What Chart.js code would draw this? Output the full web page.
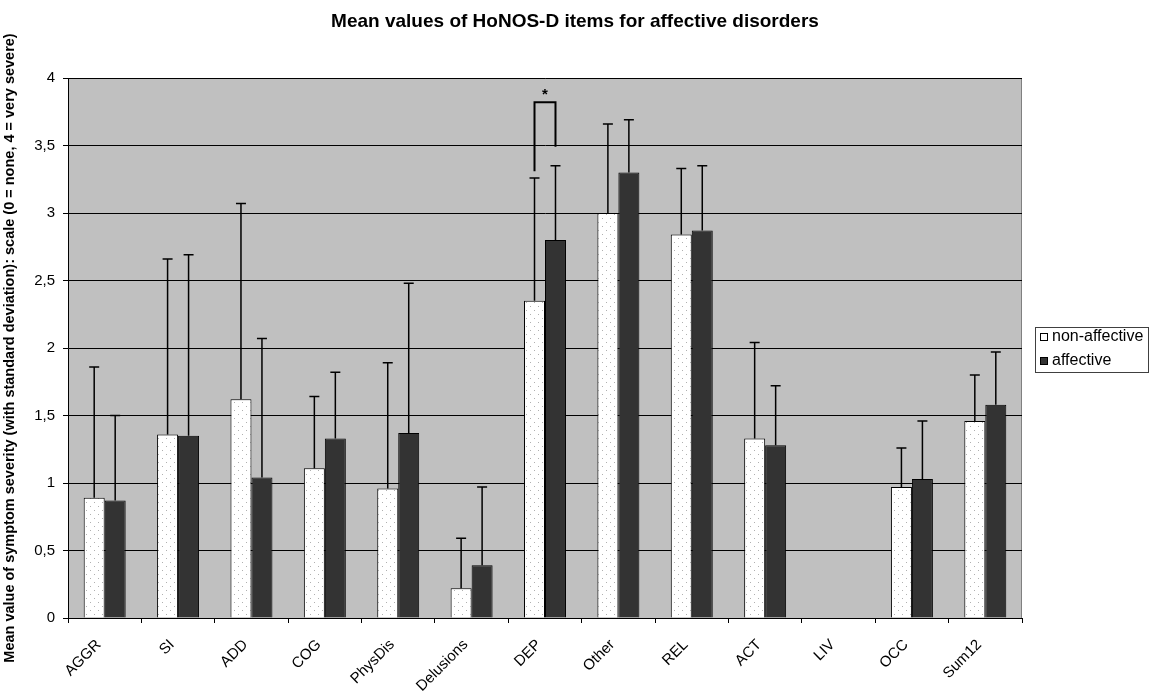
<!DOCTYPE html>
<html>
<head>
<meta charset="utf-8">
<script src="https://cdn.jsdelivr.net/npm/chart.js@4/dist/chart.umd.min.js"></script>
<style>
  html, body { margin: 0; padding: 0; background: #fff; }
  #wrap { width: 1150px; height: 693px; }
</style>
</head>
<body>
<div id="wrap"><canvas id="myChart" width="1150" height="693"></canvas></div>
<script>
// data
var categories = ["AGGR", "SI", "ADD", "COG", "PhysDis", "Delusions", "DEP", "Other", "REL", "ACT", "LIV", "OCC", "Sum12"];
var nonAffective = [0.89, 1.36, 1.62, 1.11, 0.96, 0.22, 2.35, 3.00, 2.84, 1.33, null, 0.97, 1.46];
var affective    = [0.87, 1.35, 1.04, 1.33, 1.37, 0.39, 2.80, 3.30, 2.87, 1.28, null, 1.03, 1.58];
var nonAffectiveSD = [0.97, 1.30, 1.45, 0.53, 0.93, 0.37, 0.91, 0.66, 0.49, 0.71, null, 0.29, 0.34];
var affectiveSD    = [0.63, 1.34, 1.03, 0.49, 1.11, 0.58, 0.55, 0.39, 0.48, 0.44, null, 0.43, 0.39];
var yTicks = [0, 0.5, 1, 1.5, 2, 2.5, 3, 3.5, 4];
// significance bracket on DEP: left leg bottom, top, right leg bottom
var sigCategory = "DEP";
var sigLevels = [3.31, 3.82, 3.49];
var chartTitle = "Mean values of HoNOS-D items for affective disorders";

var FONT = "Arial, 'Liberation Sans', sans-serif";
var ctx = document.getElementById("myChart").getContext("2d");

// dotted fill for the white bars
function dotPattern() {
  var c = document.createElement("canvas");
  c.width = 8; c.height = 8;
  var p = c.getContext("2d");
  p.fillStyle = "#ffffff";
  p.fillRect(0, 0, 8, 8);
  p.fillStyle = "#b0b0b0";
  p.fillRect(2, 2, 1, 1);
  p.fillRect(6, 6, 1, 1);
  return ctx.createPattern(c, "repeat");
}
var whiteFill = dotPattern();

var plotBackground = {
  id: "plotBackground",
  beforeDraw: function (chart) {
    var a = chart.chartArea, c = chart.ctx;
    c.save();
    c.fillStyle = "#c0c0c0";
    c.fillRect(a.left, a.top, a.right - a.left, a.bottom - a.top);
    c.strokeStyle = "#808080";
    c.lineWidth = 1;
    c.strokeRect(a.left + 0.5, a.top + 0.5, a.right - a.left - 1, a.bottom - a.top);
    // title, centred on the whole picture
    c.fillStyle = "#000";
    c.font = "bold 19px " + FONT;
    c.textAlign = "center";
    c.textBaseline = "middle";
    c.fillText(chartTitle, 575, 22);
    c.restore();
  }
};

var errorBars = {
  id: "errorBars",
  afterDatasetsDraw: function (chart) {
    var c = chart.ctx, y = chart.scales.y;
    var sds = [nonAffectiveSD, affectiveSD];
    c.save();
    c.strokeStyle = "#000";
    c.lineWidth = 1.5;
    chart.data.datasets.forEach(function (ds, di) {
      var meta = chart.getDatasetMeta(di);
      meta.data.forEach(function (bar, i) {
        if (ds.data[i] == null) return;
        var top = y.getPixelForValue(ds.data[i] + sds[di][i]);
        c.beginPath();
        c.moveTo(bar.x, bar.y);
        c.lineTo(bar.x, top);
        c.moveTo(bar.x - 5, top);
        c.lineTo(bar.x + 5, top);
        c.stroke();
      });
    });
    // significance bracket
    var idx = categories.indexOf(sigCategory);
    var b0 = chart.getDatasetMeta(0).data[idx];
    var b1 = chart.getDatasetMeta(1).data[idx];
    c.lineWidth = 2;
    c.beginPath();
    c.moveTo(b0.x, y.getPixelForValue(sigLevels[0]));
    c.lineTo(b0.x, y.getPixelForValue(sigLevels[1]));
    c.lineTo(b1.x, y.getPixelForValue(sigLevels[1]));
    c.lineTo(b1.x, y.getPixelForValue(sigLevels[2]));
    c.stroke();
    c.fillStyle = "#000";
    c.font = "bold 15px " + FONT;
    c.textAlign = "center";
    c.textBaseline = "alphabetic";
    c.fillText("*", (b0.x + b1.x) / 2, y.getPixelForValue(sigLevels[1]) - 3);
    c.restore();
  }
};

var boxLegend = {
  id: "boxLegend",
  afterDraw: function (chart) {
    var c = chart.ctx;
    c.save();
    c.strokeStyle = "#404040";
    c.lineWidth = 1;
    c.strokeRect(1035.5, 327.5, 113, 45);
    c.font = "16px " + FONT;
    c.textBaseline = "middle";
    c.textAlign = "left";
    var fills = ["#ffffff", "#333333"];
    chart.data.datasets.forEach(function (ds, i) {
      var yy = 337 + i * 24;
      c.fillStyle = fills[i];
      c.fillRect(1040.5, yy - 3.5, 7, 7);
      c.strokeStyle = "#000";
      c.strokeRect(1040.5, yy - 3.5, 7, 7);
      c.fillStyle = "#000";
      c.fillText(ds.label, 1052, yy);
    });
    c.restore();
  }
};

var myChart = new Chart(ctx, {
  type: "bar",
  data: {
    labels: categories,
    datasets: [{
      label: "non-affective",
      data: nonAffective,
      backgroundColor: whiteFill,
      borderColor: "#000",
      borderWidth: 1
    }, {
      label: "affective",
      data: affective,
      backgroundColor: "#333333",
      borderColor: "#000",
      borderWidth: 1
    }]
  },
  plugins: [plotBackground, errorBars, boxLegend],
  options: {
    responsive: false,
    animation: false,
    layout: { padding: { left: 0, right: 128, top: 78, bottom: 0 } },
    datasets: { bar: { barPercentage: 1, categoryPercentage: 0.572 } },
    plugins: {
      legend: { display: false },
      tooltip: { enabled: false },
      title: { display: false }
    },
    scales: {
      x: {
        grid: { display: true, drawOnChartArea: false, offset: true, tickLength: 5, color: "#000" },
        border: { color: "#000" },
        ticks: {
          color: "#000",
          font: { family: FONT, size: 15 },
          minRotation: 45, maxRotation: 45, padding: 13,
          labelOffset: -6
        },
        afterFit: function (s) { s.height = 75; }
      },
      y: {
        min: 0, max: 4,
        afterBuildTicks: function (s) { s.ticks = yTicks.map(function (v) { return { value: v }; }); },
        grid: { color: "#000", tickLength: 5 },
        border: { color: "#000" },
        ticks: {
          color: "#000",
          font: { family: FONT, size: 15 },
          padding: 8,
          callback: function (v) { return String(v).replace(".", ","); }
        },
        title: {
          display: true,
          text: "Mean value of symptom severity (with standard deviation): scale (0 = none, 4 = very severe)",
          color: "#000",
          font: { family: FONT, size: 14.5, weight: "bold" },
          padding: { top: 1, bottom: 0 }
        },
        afterFit: function (s) { s.width = 68; }
      }
    }
  }
});
</script>
</body>
</html>
